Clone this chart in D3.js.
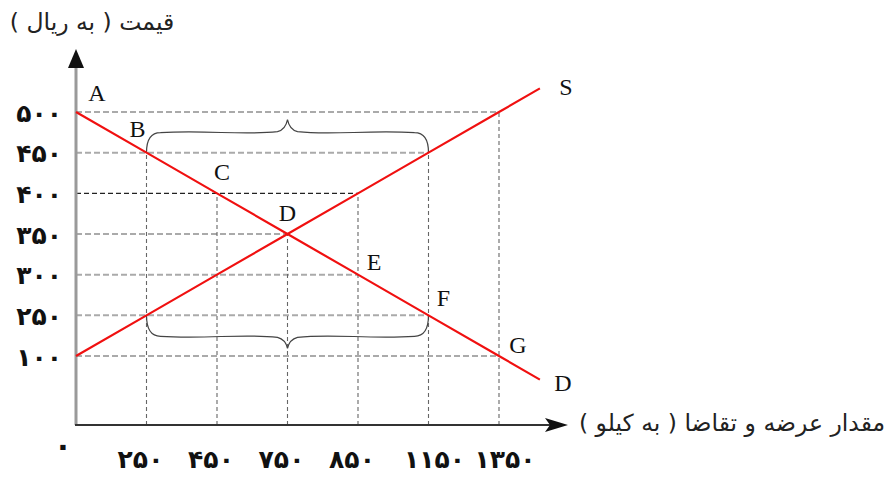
<!DOCTYPE html>
<html>
<head>
<meta charset="utf-8">
<script src="https://cdn.jsdelivr.net/npm/d3@7"></script>
<style>
  body { margin: 0; background: #fff; }
  svg { display: block; }
</style>
</head>
<body>
<svg id="chart"></svg>
<script>
// tick labels (drawn in Persian digits)
var qtyTicks = ["0", "250", "450", "750", "850", "1150", "1350"];
var priceTicks = ["100", "250", "300", "350", "400", "450", "500"];

// demand and supply points
var demandQty = ["0", "250", "450", "750", "850", "1150", "1350"];
var demandPrice = ["500", "450", "400", "350", "300", "250", "100"];
var demandNames = ["A", "B", "C", "D", "E", "F", "G"];
var supplyQty = ["0", "250", "450", "750", "850", "1150", "1350"];
var supplyPrice = ["100", "250", "300", "350", "400", "450", "500"];

var yTitle = "قیمت ( به ریال )";
var xTitle = "مقدار عرضه و تقاضا ( به کیلو )";

var dim = { width: 892, height: 477 };
var origin = { x: 76, y: 425 };

var fa = s => s.replace(/[0-9]/g, c => "۰۱۲۳۴۵۶۷۸۹"[+c]);

var svg = d3.select("#chart")
    .attr("width", dim.width)
    .attr("height", dim.height);

var xScale = d3.scalePoint()
    .domain(qtyTicks)
    .range([origin.x, 499]);

var yScale = d3.scalePoint()
    .domain(priceTicks)
    .range([356, 112]);

var demand = demandQty.map((q, i) => ({ q: q, p: demandPrice[i], name: demandNames[i] }));
var supply = supplyQty.map((q, i) => ({ q: q, p: supplyPrice[i] }));
var all = demand.concat(supply);

// horizontal grid: from the y axis to the furthest point at that price
var hGrid = svg.append("g");
priceTicks.forEach(function(p) {
    var xmax = d3.max(all.filter(d => d.p == p), d => xScale(d.q));
    hGrid.append("line")
        .attr("x1", origin.x).attr("x2", xmax)
        .attr("y1", yScale(p)).attr("y2", yScale(p))
        .attr("stroke", p == "400" ? "#222" : "#aaa")
        .attr("stroke-width", p == "400" ? 1.3 : 2)
        .attr("stroke-dasharray", p == "400" ? "5,3" : "6,3");
});

// vertical grid: from the x axis up to the highest point at that quantity
var vGrid = svg.append("g");
qtyTicks.slice(1).forEach(function(q) {
    var ytop = d3.min(all.filter(d => d.q == q), d => yScale(d.p));
    vGrid.append("line")
        .attr("x1", xScale(q)).attr("x2", xScale(q))
        .attr("y1", origin.y).attr("y2", ytop)
        .attr("stroke", "#666")
        .attr("stroke-width", 1.1)
        .attr("stroke-dasharray", "4,3");
});

// curly braces
function brace(x0, x1, yb, d, h, t) {
    var xm = (x0 + x1) / 2;
    var yh = yb + d * h;
    return "M" + x0 + "," + yb +
        "Q" + x0 + "," + yh + " " + (x0 + 14) + "," + yh +
        "C" + (x0 + 60) + "," + (yh + d * 3) + " " + (xm - 45) + "," + (yh - d * 3) + " " + (xm - 10) + "," + (yh + d * 1) +
        "Q" + (xm - 2) + "," + (yh + d * 3) + " " + xm + "," + (yb + d * (h + t)) +
        "Q" + (xm + 2) + "," + (yh + d * 3) + " " + (xm + 10) + "," + (yh + d * 1) +
        "C" + (xm + 45) + "," + (yh - d * 3) + " " + (x1 - 60) + "," + (yh + d * 3) + " " + (x1 - 14) + "," + yh +
        "Q" + x1 + "," + yh + " " + x1 + "," + yb;
}
svg.append("path")
    .attr("d", brace(xScale("250"), xScale("1150"), yScale("450"), -1, 20, 13))
    .attr("fill", "none").attr("stroke", "#444").attr("stroke-width", 1.2);
svg.append("path")
    .attr("d", brace(xScale("250"), xScale("1150"), yScale("250"), 1, 21, 12))
    .attr("fill", "none").attr("stroke", "#444").attr("stroke-width", 1.2);

// axes
svg.append("line")
    .attr("x1", origin.x).attr("x2", origin.x)
    .attr("y1", origin.y).attr("y2", 64)
    .attr("stroke", "#9a9a9a").attr("stroke-width", 3);
svg.append("path")
    .attr("d", "M" + origin.x + ",49 L" + (origin.x - 8) + ",68 L" + (origin.x + 8) + ",68 Z")
    .attr("fill", "#111");
svg.append("line")
    .attr("x1", origin.x - 1).attr("x2", 552)
    .attr("y1", origin.y).attr("y2", origin.y)
    .attr("stroke", "#333").attr("stroke-width", 2);
svg.append("path")
    .attr("d", "M568," + origin.y + " L545," + (origin.y - 7) + " L550," + origin.y + " L545," + (origin.y + 7) + " Z")
    .attr("fill", "#111");

// demand and supply lines, extended past the last point
function extended(pts) {
    var n = pts.length;
    var a = [xScale(pts[n - 2].q), yScale(pts[n - 2].p)];
    var b = [xScale(pts[n - 1].q), yScale(pts[n - 1].p)];
    var k = 0.58;
    return pts.map(d => [xScale(d.q), yScale(d.p)])
        .concat([[b[0] + (b[0] - a[0]) * k, b[1] + (b[1] - a[1]) * k]]);
}
var line = d3.line();
var dLine = extended(demand);
var sLine = extended(supply);
svg.append("path").attr("d", line(dLine))
    .attr("fill", "none").attr("stroke", "#f01010").attr("stroke-width", 2.2);
svg.append("path").attr("d", line(sLine))
    .attr("fill", "none").attr("stroke", "#f01010").attr("stroke-width", 2.2);

// point letters
var letterOffsets = [[21, -19], [-9, -24], [5, -21], [0, -21], [16, -13], [15, -17], [19, -11]];
svg.append("g").selectAll("text")
    .data(demand).enter()
    .append("text")
    .attr("x", (d, i) => xScale(d.q) + letterOffsets[i][0])
    .attr("y", (d, i) => yScale(d.p) + letterOffsets[i][1])
    .attr("text-anchor", "middle")
    .attr("dominant-baseline", "central")
    .attr("font-family", "Liberation Serif, serif")
    .attr("font-size", 24)
    .attr("fill", "#111")
    .text(d => d.name);

var dEnd = dLine[dLine.length - 1], sEnd = sLine[sLine.length - 1];
svg.append("text")
    .attr("x", dEnd[0] + 23).attr("y", dEnd[1] + 3)
    .attr("text-anchor", "middle").attr("dominant-baseline", "central")
    .attr("font-family", "Liberation Serif, serif").attr("font-size", 24)
    .attr("fill", "#111").text("D");
svg.append("text")
    .attr("x", sEnd[0] + 26).attr("y", sEnd[1] - 1)
    .attr("text-anchor", "middle").attr("dominant-baseline", "central")
    .attr("font-family", "Liberation Serif, serif").attr("font-size", 24)
    .attr("fill", "#111").text("S");

// tick labels
svg.append("g").selectAll("text")
    .data(priceTicks).enter()
    .append("text")
    .attr("x", 62)
    .attr("y", d => yScale(d) + 1)
    .attr("text-anchor", "end")
    .attr("dominant-baseline", "central")
    .attr("font-family", "DejaVu Sans, sans-serif")
    .attr("font-weight", "bold")
    .attr("font-size", 25)
    .attr("letter-spacing", 5)
    .attr("fill", "#111")
    .text(d => fa(d));

svg.append("g").selectAll("text")
    .data(qtyTicks.slice(1)).enter()
    .append("text")
    .attr("x", d => xScale(d) + (d.length > 3 ? 6 : -6))
    .attr("y", 459)
    .attr("text-anchor", "middle")
    .attr("dominant-baseline", "central")
    .attr("font-family", "DejaVu Sans, sans-serif")
    .attr("font-weight", "bold")
    .attr("font-size", 25)
    .attr("letter-spacing", d => d.length > 3 ? 3 : 4)
    .attr("fill", "#111")
    .text(d => fa(d));

svg.append("text")
    .attr("x", 63).attr("y", 445)
    .attr("text-anchor", "middle").attr("dominant-baseline", "central")
    .attr("font-family", "DejaVu Sans, sans-serif").attr("font-weight", "bold")
    .attr("font-size", 30).attr("fill", "#111")
    .text(fa(qtyTicks[0]));

// axis titles
svg.append("text")
    .attr("x", 92).attr("y", 22)
    .attr("direction", "rtl")
    .attr("text-anchor", "middle").attr("dominant-baseline", "central")
    .attr("font-family", "DejaVu Sans, sans-serif")
    .attr("font-size", 23.5).attr("fill", "#222")
    .text(yTitle);
svg.append("text")
    .attr("x", 732).attr("y", 423)
    .attr("direction", "rtl")
    .attr("text-anchor", "middle").attr("dominant-baseline", "central")
    .attr("font-family", "DejaVu Sans, sans-serif")
    .attr("font-size", 23.5).attr("fill", "#222")
    .text(xTitle);
</script>
</body>
</html>
